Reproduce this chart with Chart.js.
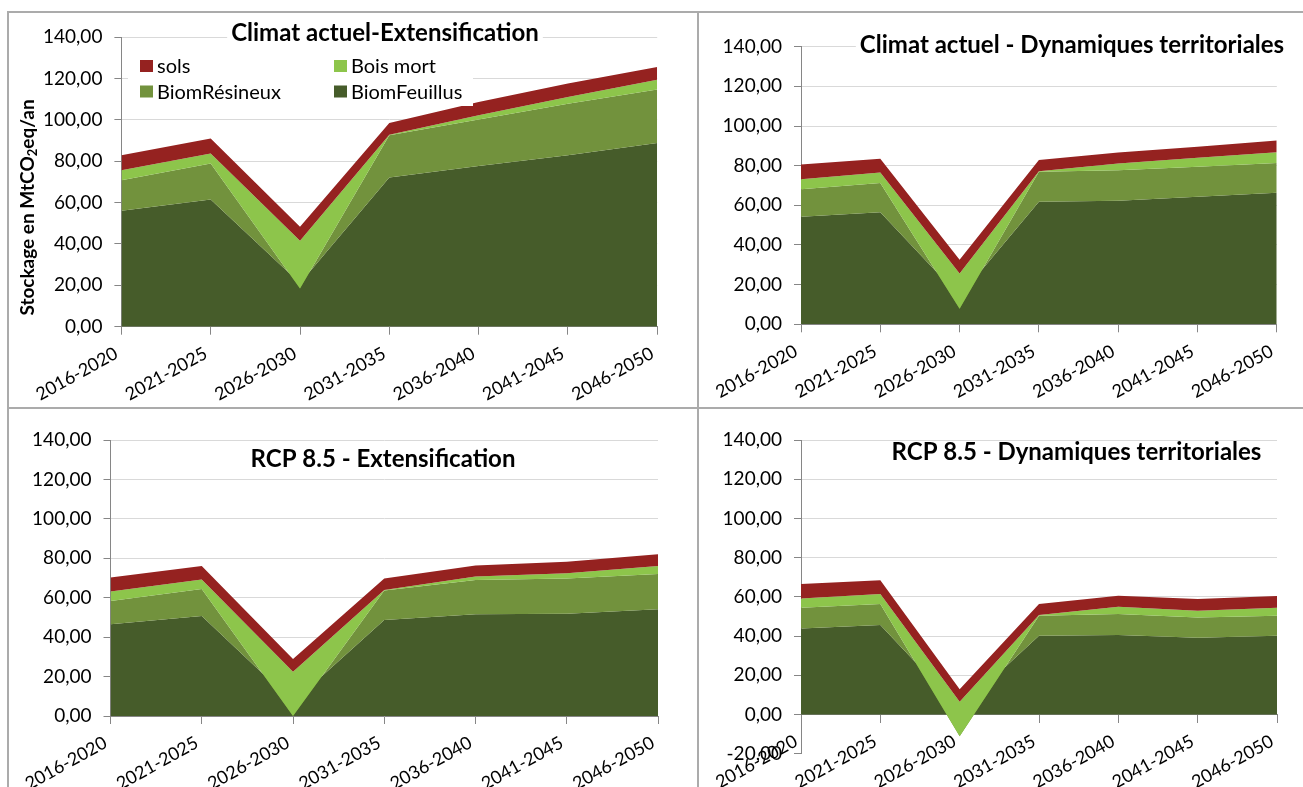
<!DOCTYPE html>
<html>
<head>
<meta charset="utf-8">
<script src="https://cdn.jsdelivr.net/npm/chart.js@4.4.1/dist/chart.umd.min.js"></script>
<style>
  html, body { margin: 0; padding: 0; background: #fff; }
  body { width: 1303px; height: 787px; position: relative; overflow: hidden; }
  .panel { position: absolute; }
  .line { position: absolute; background: #ababab; }
</style>
</head>
<body>
<div class="panel" style="left:8px;top:13px;width:690px;height:395px"><canvas id="c1"></canvas></div>
<div class="panel" style="left:698px;top:13px;width:605px;height:395px"><canvas id="c2"></canvas></div>
<div class="panel" style="left:8px;top:408px;width:690px;height:379px"><canvas id="c3"></canvas></div>
<div class="panel" style="left:698px;top:408px;width:605px;height:379px"><canvas id="c4"></canvas></div>

<div class="line" style="left:7px;top:11px;width:1296px;height:2px"></div>
<div class="line" style="left:7px;top:407px;width:1296px;height:2px"></div>
<div class="line" style="left:7px;top:11px;width:2px;height:776px"></div>
<div class="line" style="left:697px;top:11px;width:2px;height:776px"></div>

<script>
// periods on the x axis
const periods = ['2016-2020', '2021-2025', '2026-2030', '2031-2035', '2036-2040', '2041-2045', '2046-2050'];

// series names, top of the stack first (same order as the legend)
const seriesNames = ['sols', 'Bois mort', 'BiomRésineux', 'BiomFeuillus'];
const seriesColors = ['#952220', '#8dc54b', '#72923d', '#465c2a'];

// Climat actuel - Extensification
const caExtFeuillus = [56.0, 61.5, 21.0, 72.1, 77.6, 82.9, 88.8];
const caExtResineux = [14.8, 17.4, -2.5, 20.4, 22.5, 24.9, 25.8];
const caExtBoisMort = [4.8, 4.8, 23.0, 0.3, 2.1, 3.2, 4.8];
const caExtSols     = [7.3, 7.2, 6.8, 5.7, 6.4, 6.5, 6.1];

// Climat actuel - Dynamiques territoriales
const caDynFeuillus = [54.2, 56.5, 14.0, 61.8, 62.3, 64.3, 66.3];
const caDynResineux = [13.9, 14.8, -6.1, 15.1, 15.4, 15.1, 15.1];
const caDynBoisMort = [5.1, 5.3, 17.7, 0.3, 3.4, 4.6, 5.4];
const caDynSols     = [7.4, 6.9, 7.0, 5.6, 5.6, 5.5, 5.9];

// RCP 8.5 - Extensification
const rcpExtFeuillus = [46.5, 50.7, 7.0, 48.7, 51.6, 51.9, 54.1];
const rcpExtResineux = [11.8, 13.7, -7.0, 14.9, 17.4, 17.9, 17.9];
const rcpExtBoisMort = [4.8, 4.9, 22.5, 0.3, 1.7, 2.6, 4.1];
const rcpExtSols     = [7.2, 6.8, 6.4, 5.9, 5.6, 5.9, 5.9];

// RCP 8.5 - Dynamiques territoriales
const rcpDynFeuillus = [43.9, 45.6, 2.7, 40.1, 40.5, 39.1, 40.1];
const rcpDynResineux = [10.5, 10.7, -13.8, 10.2, 10.7, 10.4, 10.2];
const rcpDynBoisMort = [4.8, 5.1, 17.6, 0.4, 3.7, 3.4, 4.1];
const rcpDynSols     = [7.3, 7.1, 6.4, 5.6, 5.7, 6.0, 6.0];

const FONT = 'Lato';
const axisGrey = '#868686';
const gridGrey = '#d9d9d9';

// stacked area like Excel: each layer filled between its running total and the one below,
// bottom layer drawn first so upper layers cover it
function buildDatasets(feuillus, resineux, boisMort, sols) {
  const bottomUp = [feuillus, resineux, boisMort, sols];
  const totals = [];
  let run = feuillus.map(() => 0);
  bottomUp.forEach(s => {
    run = run.map((v, i) => v + s[i]);
    totals.push(run);
  });
  totals.reverse();
  return totals.map((t, i) => ({
    label: seriesNames[i],
    data: t,
    backgroundColor: seriesColors[i],
    borderColor: 'transparent',
    borderWidth: 0,
    pointRadius: 0,
    tension: 0,
    fill: i < totals.length - 1 ? '+1' : 'origin'
  }));
}

const panelText = {
  id: 'panelText',
  afterDraw(chart, args, o) {
    const ctx = chart.ctx;
    ctx.save();
    if (o.legend) {
      const L = o.legend;
      ctx.fillStyle = '#fff';
      ctx.fillRect(L.x, L.y, L.w, L.h);
      ctx.font = '20px ' + FONT;
      ctx.textBaseline = 'middle';
      ctx.textAlign = 'left';
      chart.data.datasets.forEach((ds, i) => {
        const mx = i % 2 ? L.col2 : L.col1;
        const my = i < 2 ? L.row1 : L.row2;
        ctx.fillStyle = ds.backgroundColor;
        ctx.fillRect(mx, my - 6, 13, 12);
        ctx.fillStyle = '#000';
        ctx.fillText(ds.label, mx + 17, my + 1);
      });
    }
    if (o.title) {
      const T = o.title;
      ctx.font = 'bold 24px ' + FONT;
      const w = ctx.measureText(T.text).width;
      ctx.fillStyle = '#fff';
      ctx.fillRect(T.x - w / 2 - 4, T.y - 18.5, w + 8, 25);
      ctx.fillStyle = '#000';
      ctx.textAlign = 'center';
      ctx.textBaseline = 'alphabetic';
      ctx.fillText(T.text, T.x, T.y);
    }
    if (o.yTitle) {
      const Y = o.yTitle;
      ctx.translate(Y.x, Y.y);
      ctx.rotate(-Math.PI / 2);
      ctx.fillStyle = '#000';
      ctx.textBaseline = 'middle';
      ctx.textAlign = 'left';
      const big = 'bold 19px ' + FONT, small = 'bold 13px ' + FONT;
      ctx.font = big;
      const w1 = ctx.measureText(Y.before).width, w3 = ctx.measureText(Y.after).width;
      ctx.font = small;
      const w2 = ctx.measureText(Y.sub).width;
      let x = -(w1 + w2 + w3) / 2;
      ctx.font = big; ctx.fillText(Y.before, x, 0); x += w1;
      ctx.font = small; ctx.fillText(Y.sub, x, 5); x += w2;
      ctx.font = big; ctx.fillText(Y.after, x, 0);
    }
    ctx.restore();
  }
};

function makePanel(id, layers, cfg) {
  return new Chart(document.getElementById(id), {
    type: 'line',
    data: { labels: periods, datasets: buildDatasets(...layers) },
    options: {
      responsive: true,
      maintainAspectRatio: false,
      animation: false,
      layout: { padding: cfg.padding },
      plugins: {
        legend: { display: false },
        tooltip: { enabled: false },
        panelText: cfg.text
      },
      scales: {
        x: {
          position: cfg.xAtZero ? { y: 0 } : 'bottom',
          grid: { drawOnChartArea: false, tickLength: 8, tickColor: axisGrey },
          border: { color: axisGrey },
          ticks: { minRotation: 29, maxRotation: 29, font: { family: FONT, size: 18 }, color: '#000', padding: 8, labelOffset: -5 },
          afterFit: s => { s.height = cfg.xHeight; }
        },
        y: {
          min: cfg.yMin,
          max: 140,
          ticks: {
            stepSize: 20,
            font: { family: FONT, size: 19 },
            color: '#000',
            padding: 12,
            callback: v => v.toFixed(2).replace('.', ',')
          },
          grid: {
            color: c => (c.tick && c.tick.value < 0) ? 'rgba(0,0,0,0)' : gridGrey,
            tickLength: 7,
            tickColor: axisGrey
          },
          border: { color: axisGrey },
          afterFit: s => { s.width = cfg.yWidth; }
        }
      }
    },
    plugins: [panelText]
  });
}

makePanel('c1', [caExtFeuillus, caExtResineux, caExtBoisMort, caExtSols], {
  padding: { left: 0, top: 24, right: 40.8, bottom: 0 },
  yWidth: 113.4, xHeight: 81.3, yMin: 0,
  text: {
    title: { text: 'Climat actuel-Extensification', x: 377, y: 27.7 },
    yTitle: { before: 'Stockage en MtCO', sub: '2', after: 'eq/an', x: 20, y: 194.5 },
    legend: { x: 120, y: 37, w: 345, h: 56, col1: 132, col2: 326, row1: 53, row2: 78.5 }
  }
});

makePanel('c2', [caDynFeuillus, caDynResineux, caDynBoisMort, caDynSols], {
  padding: { left: 0, top: 33.7, right: 26.2, bottom: 0 },
  yWidth: 103, xHeight: 83.7, yMin: 0,
  text: { title: { text: 'Climat actuel - Dynamiques territoriales', x: 374, y: 40 } }
});

makePanel('c3', [rcpExtFeuillus, rcpExtResineux, rcpExtBoisMort, rcpExtSols], {
  padding: { left: 0, top: 32, right: 40, bottom: 0 },
  yWidth: 102.5, xHeight: 71, yMin: 0,
  text: { title: { text: 'RCP 8.5 - Extensification', x: 375, y: 58.7 } }
});

// x axis sits on the zero line here, so it takes no room of its own
makePanel('c4', [rcpDynFeuillus, rcpDynResineux, rcpDynBoisMort, rcpDynSols], {
  padding: { left: 0, top: 32, right: 26, bottom: 33.3 },
  yWidth: 103, xHeight: 28, yMin: -20, xAtZero: true,
  text: { title: { text: 'RCP 8.5 - Dynamiques territoriales', x: 378.5, y: 52 } }
});
</script>
</body>
</html>
